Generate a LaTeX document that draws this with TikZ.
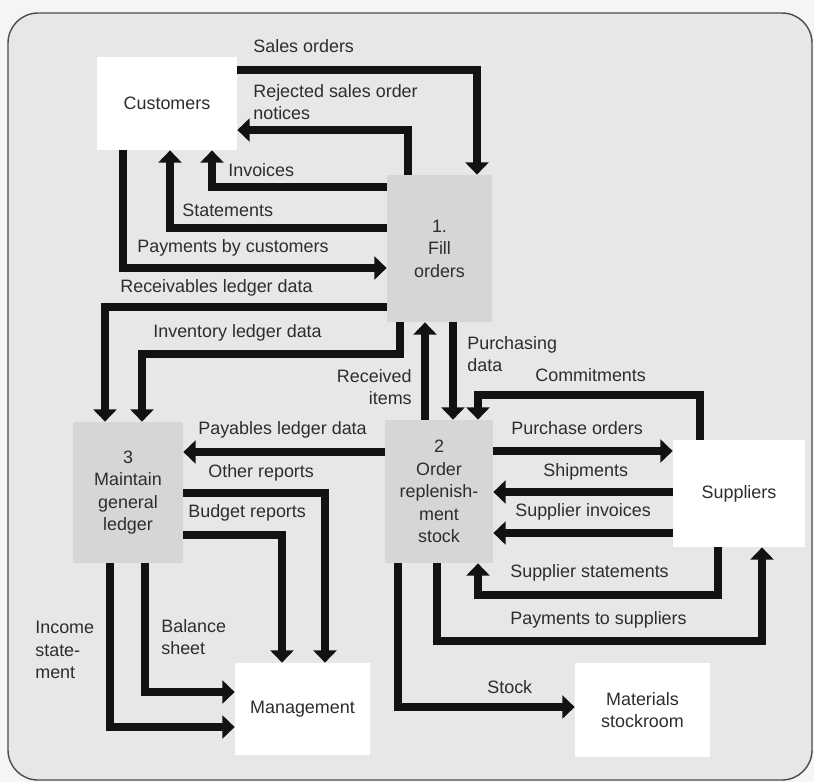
\documentclass[tikz,border=0pt]{standalone}
\usepackage{fontspec}
\setmainfont{Liberation Sans}
\usetikzlibrary{arrows.meta}

\definecolor{panel}{RGB}{231,230,232}
\definecolor{procgray}{RGB}{214,214,214}
\definecolor{ink}{RGB}{18,18,18}
\definecolor{txt}{RGB}{45,45,45}

\tikzset{
  flow/.style={draw=ink, line width=4.5pt, line join=miter, -{Triangle[length=7pt,width=13pt]}},
  entity/.style={fill=white, text=txt, align=center, inner sep=0pt},
  process/.style={fill=procgray, text=txt, align=center, inner sep=0pt},
  lbl/.style={text=txt, align=left, inner sep=0pt, anchor=west},
  every node/.style={font=\fontsize{10.2}{12.8}\selectfont},
}

\begin{document}
\begin{tikzpicture}[x=0.02cm, y=-0.02cm]
        \useasboundingbox (0,0) rectangle (814,782);
        \fill[white!96!black] (0,0) rectangle (814,782);
        \filldraw[fill=panel, draw=gray!60!black, line width=0.8pt, rounded corners=0.6cm] (8,13) rectangle (812,780);

        \node[entity, minimum width=2.8cm, minimum height=1.86cm] (cust) at (167,103.5) {Customers};
        \node[process, minimum width=2.1cm, minimum height=2.94cm] (fill) at (439.5,248.5) {1.\\Fill\\orders};
        \node[process, minimum width=2.16cm, minimum height=2.86cm] (order) at (439,491.5) {2\\Order\\replenish-\\ment\\stock};
        \node[process, minimum width=2.2cm, minimum height=2.82cm] (ledger) at (128,492.5) {3\\Maintain\\general\\ledger};
        \node[entity, minimum width=2.64cm, minimum height=2.14cm] (supp) at (739,493.5) {Suppliers};
        \node[entity, minimum width=2.7cm, minimum height=1.84cm] (mgmt) at (302.5,709) {Management};
        \node[entity, minimum width=2.7cm, minimum height=1.88cm] (stock) at (642.5,710) {Materials\\stockroom};

        \draw[flow] (cust.east |- 0,70) -| (477,0 |- fill.north);
        \draw[flow] (408,0 |- fill.north) |- (cust.east |- 0,130);
        \draw[flow] (fill.west |- 0,187) -| (212,0 |- cust.south);
        \draw[flow] (fill.west |- 0,228) -| (170,0 |- cust.south);
        \draw[flow] (123,0 |- cust.south) |- (fill.west |- 0,268);
        \draw[flow] (fill.west |- 0,307) -| (105,0 |- ledger.north);
        \draw[flow] (400,0 |- fill.south) |- (142,354) -- (142,0 |- ledger.north);
        \draw[flow] (425,0 |- order.north) -- (425,0 |- fill.south);
        \draw[flow] (453,0 |- fill.south) -- (453,0 |- order.north);
        \draw[flow] (700,0 |- supp.north) |- (478,395) -- (478,0 |- order.north);
        \draw[flow] (order.east |- 0,451) -- (supp.west |- 0,451);
        \draw[flow] (supp.west |- 0,492) -- (order.east |- 0,492);
        \draw[flow] (supp.west |- 0,533) -- (order.east |- 0,533);
        \draw[flow] (718,0 |- supp.south) |- (478,595) -- (478,0 |- order.south);
        \draw[flow] (437,0 |- order.south) |- (762,641) -- (762,0 |- supp.south);
        \draw[flow] (398,0 |- order.south) |- (stock.west |- 0,707);
        \draw[flow] (order.west |- 0,452) -- (ledger.east |- 0,452);
        \draw[flow] (ledger.east |- 0,493) -| (325,0 |- mgmt.north);
        \draw[flow] (ledger.east |- 0,535) -| (282,0 |- mgmt.north);
        \draw[flow] (145,0 |- ledger.south) |- (mgmt.west |- 0,692);
        \draw[flow] (110,0 |- ledger.south) |- (mgmt.west |- 0,727);

        \node[lbl] (lsales) at (253,46) {Sales orders};
        \node[lbl] (lreject) at (253,102) {Rejected sales order\\notices};
        \node[lbl] (linv) at (228,170) {Invoices};
        \node[lbl] (lstmt) at (182,210) {Statements};
        \node[lbl] (lpay) at (137,248) {Payments by customers};
        \node[lbl] (lrecv) at (120,288) {Receivables ledger data};
        \node[lbl] (linvent) at (153,333) {Inventory ledger data};
        \node[lbl, anchor=east, align=right] (lrcvd) at (412,387) {Received\\items};
        \node[lbl] (lpurch) at (467,354) {Purchasing\\data};
        \node[lbl] (lcommit) at (535,375) {Commitments};
        \node[lbl] (lporder) at (511,428) {Purchase orders};
        \node[lbl] (lship) at (543,472) {Shipments};
        \node[lbl] (lsinv) at (515,512) {Supplier invoices};
        \node[lbl] (lsstmt) at (510,573) {Supplier statements};
        \node[lbl] (lspay) at (510,620) {Payments to suppliers};
        \node[lbl] (lstock) at (487,687) {Stock};
        \node[lbl] (lpayable) at (198,430) {Payables ledger data};
        \node[lbl] (lother) at (208,473) {Other reports};
        \node[lbl] (lbudget) at (188,513) {Budget reports};
        \node[lbl] (lbal) at (161,637) {Balance\\sheet};
        \node[lbl] (linc) at (35,650) {Income\\state-\\ment};
\end{tikzpicture}
\end{document}
